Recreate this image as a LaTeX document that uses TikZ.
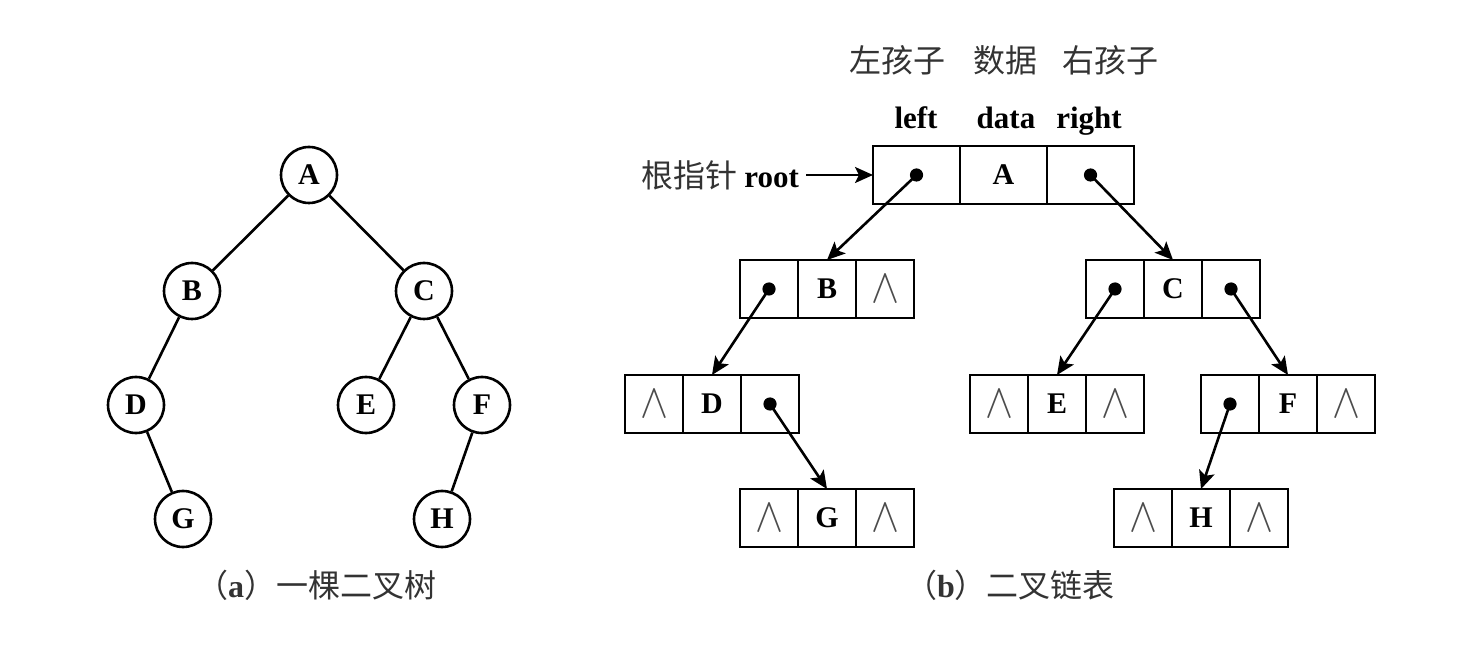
\documentclass[tikz,border=0pt]{standalone}
\usepackage{fontspec}
\setmainfont{Liberation Serif}
\newfontfamily\cjk{Noto Sans CJK SC}
\usetikzlibrary{positioning,arrows.meta}

\newcommand{\nilptr}{\textcolor{black!70}{\resizebox{14pt}{13.5pt}{$\wedge$}}}

\begin{document}
\begin{tikzpicture}[x=0.5pt,y=-0.5pt,
  vertex/.style={circle,draw,line width=1.3pt,minimum size=28pt,inner sep=0pt,
    font=\fontsize{15}{16}\selectfont\bfseries},
  cell/.style={rectangle,draw,line width=1.4pt,minimum width=29pt,minimum height=29pt,
    inner sep=0pt,outer sep=0pt,font=\fontsize{15}{16}\selectfont\bfseries},
  ptr/.style={-{Stealth[length=9pt,width=8pt,inset=2pt]},line width=1.3pt},
  hdr/.style={anchor=base,font=\fontsize{15.5}{18}\selectfont\bfseries},
  zh/.style={font=\cjk\fontsize{16}{18}\selectfont,text=black!80}]
  \useasboundingbox (0,0) rectangle (1472,646);

  % (a) binary tree
  \node[vertex] (tA) at (309,175) {A};
  \node[vertex] (tB) at (192,291) {B};
  \node[vertex] (tC) at (424,291) {C};
  \node[vertex] (tD) at (136,405) {D};
  \node[vertex] (tE) at (366,405) {E};
  \node[vertex] (tF) at (482,405) {F};
  \node[vertex] (tG) at (183,519) {G};
  \node[vertex] (tH) at (442,519) {H};
  \draw[line width=1.3pt] (tA) -- (tB) (tA) -- (tC) (tB) -- (tD) (tC) -- (tE)
    (tC) -- (tF) (tD) -- (tG) (tF) -- (tH);
  \node[zh] (capa) at (316,585) {（{\normalfont\bfseries a}）一棵二叉树};

  % (b) linked representation
  \node[cell,minimum width=43.5pt] (A-l) at (916.5,175) {};
  \node[cell,minimum width=43.5pt,right=0pt of A-l] (A-d) {A};
  \node[cell,minimum width=43.5pt,right=0pt of A-d] (A-r) {};
  \foreach \n/\x/\y/\l/\r in {B/769/289/{}/\nilptr, C/1115/289/{}/{},
      D/654/404/\nilptr/{}, E/999/404/\nilptr/\nilptr, F/1230/404/{}/\nilptr,
      G/769/518/\nilptr/\nilptr, H/1143/518/\nilptr/\nilptr} {
    \node[cell] (\n-l) at (\x,\y) {\l};
    \node[cell,right=0pt of \n-l] (\n-d) {\n};
    \node[cell,right=0pt of \n-d] (\n-r) {\r};
  }
  \foreach \s/\t in {A-l/B, A-r/C, B-l/D, C-l/E, C-r/F, D-r/G, F-l/H} {
    \draw[ptr] (\s.center) -- (\t-d.north);
    \fill (\s.center) circle (3.3pt);
  }

  \node[hdr] (hleft) at (916,129) {left};
  \node[hdr] (hdata) at (1006,129) {data};
  \node[hdr] (hright) at (1089,129) {right};
  \node[zh] (zleft) at (897,60) {左孩子};
  \node[zh] (zdata) at (1005,60) {数据};
  \node[zh] (zright) at (1110,60) {右孩子};

  \node[zh,anchor=east] (rootlbl) at (806,175) {根指针 {\normalfont\fontsize{15.5}{18}\selectfont\bfseries\color{black}root}};
  \draw[ptr] (rootlbl.east) -- (rootlbl.east -| A-l.west);
  \node[zh] (capb) at (1010,585) {（{\normalfont\bfseries b}）二叉链表};
\end{tikzpicture}
\end{document}
